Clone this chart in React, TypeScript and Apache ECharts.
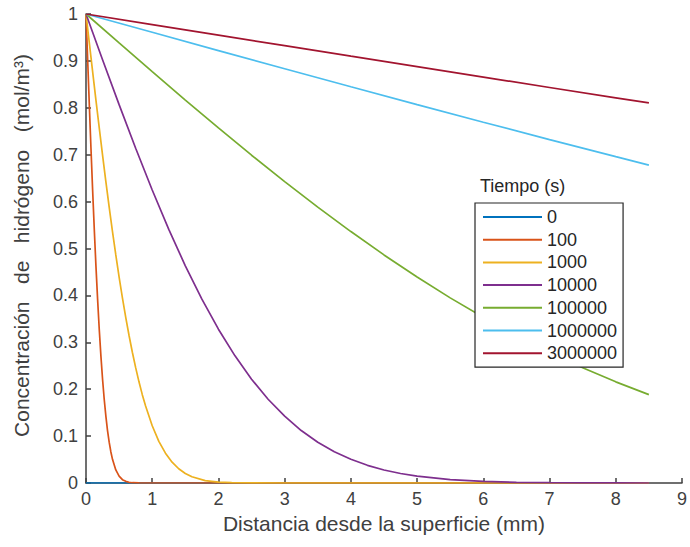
import React, { useEffect, useRef } from "react";
import * as echarts from "echarts";

const seriesNames = ["0", "100", "1000", "10000", "100000", "1000000", "3000000"];
const seriesColors = ["#0072BD", "#D95319", "#EDB120", "#7E2F8E", "#77AC30", "#4DBEEE", "#A2142F"];

const t0: [number, number][] = [[0, 0], [8.5, 0]];
const t100: [number, number][] = [
  [0, 1], [0.025, 0.9026], [0.05, 0.8067], [0.075, 0.7137], [0.1, 0.6247], [0.125, 0.5409],
  [0.15, 0.463], [0.175, 0.392], [0.2, 0.3279], [0.225, 0.2711], [0.25, 0.2213], [0.275, 0.1786],
  [0.3, 0.1427], [0.325, 0.1118], [0.35, 0.087], [0.375, 0.0667], [0.4, 0.0505], [0.45, 0.0278],
  [0.5, 0.0145], [0.55, 0.0071], [0.6, 0.0035], [0.65, 0.0015], [0.7, 0.0006], [0.8, 0.0001],
  [1, 0], [8.5, 0],
];
const t1000: [number, number][] = [
  [0, 1], [0.05, 0.9383], [0.1, 0.8771], [0.15, 0.8165], [0.2, 0.757], [0.25, 0.6989], [0.3, 0.6426],
  [0.35, 0.5881], [0.4, 0.5361], [0.45, 0.4863], [0.5, 0.4392], [0.55, 0.3947], [0.6, 0.3532],
  [0.65, 0.3145], [0.7, 0.2788], [0.75, 0.2459], [0.8, 0.2157], [0.85, 0.1884], [0.9, 0.164],
  [1.0, 0.122], [1.1, 0.0889], [1.2, 0.0636], [1.3, 0.0444], [1.4, 0.0304], [1.5, 0.0204],
  [1.6, 0.0133], [1.8, 0.0051], [2.0, 0.0019], [2.2, 0.0007], [2.5, 0.0001], [3, 0], [8.5, 0],
];
const t10000: [number, number][] = [
  [0, 1], [0.1, 0.961], [0.25, 0.9026], [0.5, 0.8067], [0.75, 0.7137], [1, 0.6247], [1.25, 0.5409],
  [1.5, 0.463], [1.75, 0.392], [2, 0.3279], [2.25, 0.2711], [2.5, 0.2213], [2.75, 0.1786],
  [3, 0.1427], [3.25, 0.1118], [3.5, 0.087], [3.75, 0.0667], [4, 0.0505], [4.25, 0.0377], [4.5, 0.0278],
  [4.75, 0.0202], [5, 0.0145], [5.5, 0.0071], [6, 0.0035], [6.5, 0.0015], [7, 0.0006], [7.5, 0.0002],
  [8, 0.0001], [8.5, 0],
];
const t100000: [number, number][] = [
  [0, 1], [0.5, 0.9383], [1, 0.8771], [1.5, 0.8165], [2, 0.757], [2.5, 0.6989], [3, 0.6426],
  [3.5, 0.5881], [4, 0.5361], [4.5, 0.4863], [5, 0.4392], [5.5, 0.3947], [6, 0.3532],
  [6.5, 0.3145], [7, 0.2788], [7.5, 0.2459], [8, 0.2157], [8.5, 0.1884],
];
const t1000000: [number, number][] = [
  [0, 1], [1, 0.961], [2, 0.922], [3, 0.8833], [4, 0.8449], [5, 0.8067], [6, 0.7693],
  [7, 0.7321], [8, 0.6958], [8.5, 0.6779],
];
const t3000000: [number, number][] = [
  [0, 1], [1, 0.9775], [2, 0.9549], [3, 0.9325], [4, 0.9101], [5, 0.8878], [6, 0.8655],
  [7, 0.8433], [8, 0.8213], [8.5, 0.8104],
];
const allData = [t0, t100, t1000, t10000, t100000, t1000000, t3000000];

const FONT = "'Liberation Sans', Arial, sans-serif";
const AXIS_COLOR = "#404040";
const TEXT_COLOR = "#404040";

export default function App() {
  const ref = useRef<HTMLDivElement>(null);
  useEffect(() => {
    if (!ref.current) return;
    const chart = echarts.init(ref.current, undefined, { renderer: "svg" });
    chart.setOption({
      animation: false,
      backgroundColor: "#ffffff",
      textStyle: { fontFamily: FONT },
      grid: { left: 86, right: 7, top: 14, bottom: 64 },
      xAxis: {
        type: "value",
        min: 0,
        max: 9,
        interval: 1,
        name: "Distancia desde la superficie (mm)",
        nameLocation: "middle",
        nameGap: 27,
        nameTextStyle: { fontSize: 21, color: TEXT_COLOR, fontFamily: FONT },
        axisLine: { show: true, onZero: false, lineStyle: { color: AXIS_COLOR, width: 1.5 } },
        axisTick: { show: true, inside: true, length: 5, lineStyle: { color: AXIS_COLOR, width: 1.5 } },
        axisLabel: { fontSize: 18, color: TEXT_COLOR, margin: 7, fontFamily: FONT },
        splitLine: { show: false },
      },
      yAxis: {
        type: "value",
        min: 0,
        max: 1,
        interval: 0.1,
        name: "Concentración   de   hidrógeno   (mol/m³)",
        nameLocation: "middle",
        nameGap: 54,
        nameRotate: 90,
        nameTextStyle: { fontSize: 21, color: TEXT_COLOR, fontFamily: FONT, padding: [0, 0, 0, 6] },
        axisLine: { show: true, onZero: false, lineStyle: { color: AXIS_COLOR, width: 1.5 } },
        axisTick: { show: true, inside: true, length: 5, lineStyle: { color: AXIS_COLOR, width: 1.5 } },
        axisLabel: {
          fontSize: 18,
          color: TEXT_COLOR,
          margin: 8,
          fontFamily: FONT,
          formatter: (v: number) => String(parseFloat(v.toFixed(1))),
        },
        splitLine: { show: false },
      },
      legend: {
        orient: "vertical",
        left: 475,
        top: 203,
        padding: [5, 6, 5, 7],
        itemWidth: 59,
        itemHeight: 18,
        itemGap: 4.7,
        borderColor: "#262626",
        borderWidth: 1.2,
        backgroundColor: "#ffffff",
        itemStyle: { opacity: 0, borderWidth: 0 },
        textStyle: { fontSize: 18, color: "#262626", fontFamily: FONT },
        data: seriesNames,
      },
      graphic: [
        {
          type: "text",
          left: 480,
          top: 177,
          style: { text: "Tiempo (s)", fontSize: 18, fill: "#262626", fontFamily: FONT },
        },
      ],
      series: allData.map((d, i) => ({
        name: seriesNames[i],
        type: "line",
        data: d,
        showSymbol: false,
        symbol: "none",
        color: seriesColors[i],
        lineStyle: { width: 1.7, color: seriesColors[i] },
      })),
    });
    return () => chart.dispose();
  }, []);
  return <div ref={ref} style={{ position: "absolute", left: 0, top: 0, width: 690, height: 547 }} />;
}
